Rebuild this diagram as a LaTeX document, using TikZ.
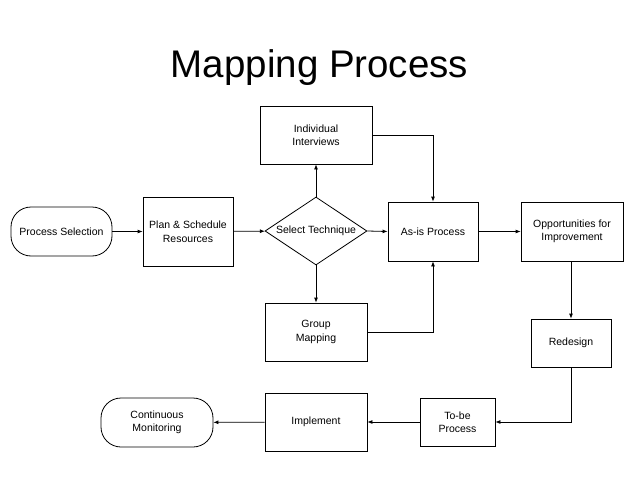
\documentclass[tikz,border=0pt]{standalone}
\usepackage{fontspec}
\setmainfont{Liberation Sans}
\usetikzlibrary{arrows.meta,shapes.geometric}
\begin{document}
\begin{tikzpicture}[x=1pt,y=-1pt,
  every node/.style={font=\fontsize{10.5}{13.5}\selectfont, align=center, inner sep=0pt},
  box/.style={draw, line width=0.8pt, rectangle},
  term/.style={draw, line width=0.8pt, rectangle, rounded corners=20pt},
  arr/.style={line width=0.8pt, -{Latex[length=5pt,width=4pt]}},
  ln/.style={line width=0.8pt}]
\useasboundingbox (0,0) rectangle (638,479);
\node[anchor=base] (title) at (319.5,77) {\fontsize{38.5}{44}\selectfont Mapping Process};
\node[term, minimum width=101pt, minimum height=49pt] (ps) at (61.5,231.5) {Process Selection};
\node[box, minimum width=90pt, minimum height=69pt] (plan) at (188,231.5) {Plan \& Schedule\\Resources};
\node[draw, line width=0.8pt, diamond, minimum width=102pt, minimum height=68pt, inner sep=0pt, label=center:{Select Technique}] (st) at (316,231) {};
\node[box, minimum width=112pt, minimum height=58pt] (ii) at (316,135) {Individual\\Interviews};
\node[box, minimum width=90pt, minimum height=59pt] (asis) at (433,231.5) {As-is Process};
\node[box, minimum width=102pt, minimum height=59pt] (opp) at (572,231.5) {Opportunities for\\Improvement};
\node[box, minimum width=102pt, minimum height=58pt] (gm) at (316,332) {Group\\Mapping};
\node[box, minimum width=80pt, minimum height=48pt] (red) at (571,343) {Redesign};
\node[box, minimum width=75pt, minimum height=48pt] (tobe) at (457.5,422) {To-be\\Process};
\node[box, minimum width=102pt, minimum height=58pt] (impl) at (316,422) {Implement};
\node[term, minimum width=112pt, minimum height=49pt] (cm) at (157,422.5) {Continuous\\Monitoring};
\draw[arr] (ps) -- (plan);
\draw[arr] (plan) -- (st);
\draw[arr] (st.north) -- (ii.south);
\draw[arr] (st.south) -- (gm.north);
\draw[arr] (st.east) -- (asis.west);
\draw[arr] (ii.east) -| (asis.north);
\draw[arr] (gm.east) -| (asis.south);
\draw[arr] (asis) -- (opp);
\draw[arr] (opp.south -| red.north) -- (red.north);
\draw[arr] (red.south) |- (tobe.east);
\draw[arr] (tobe) -- (impl);
\draw[arr] (impl) -- (cm);
\end{tikzpicture}
\end{document}
